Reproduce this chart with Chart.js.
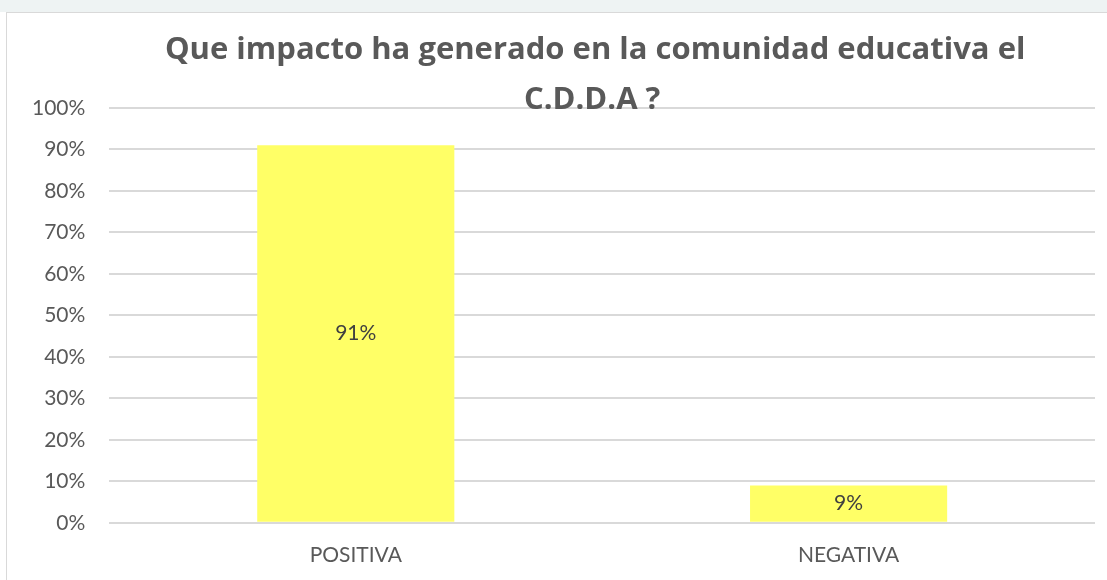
<!DOCTYPE html>
<html>
<head>
<meta charset="utf-8">
<script src="https://cdn.jsdelivr.net/npm/chart.js@4"></script>
<style>
  body { margin: 0; background: #ffffff; }
  #strip { position: absolute; left: 0; top: 0; width: 1107px; height: 12px; background: #eef3f3; }
  #box { position: absolute; left: 6px; top: 12px; width: 1100px; height: 567px; border: 1px solid #d9d9d9; border-right: none; border-bottom: none; background: #fff; }
</style>
</head>
<body>
<div id="strip"></div>
<div id="box"><canvas id="impactChart"></canvas></div>
<script>
let categories = ["POSITIVA", "NEGATIVA"];
let values = [0.91, 0.09];
let titleLines = ["Que impacto ha generado en la comunidad educativa el", "C.D.D.A ?"];

let pct = (v) => Math.round(v * 100) + "%";

// value labels in the middle of each bar
let centerLabels = {
  id: "centerLabels",
  afterDatasetsDraw(chart) {
    let ctx = chart.ctx;
    let meta = chart.getDatasetMeta(0);
    ctx.save();
    ctx.font = "21px Lato";
    ctx.fillStyle = "#404040";
    ctx.textAlign = "center";
    ctx.textBaseline = "middle";
    meta.data.forEach((bar, i) => {
      let mid = (bar.y + bar.base) / 2;
      ctx.fillText(pct(values[i]), bar.x, mid);
    });
    ctx.restore();
  },
};

// two-line title drawn by hand so it can sit close to the plot
let titleText = {
  id: "titleText",
  afterDraw(chart) {
    let ctx = chart.ctx;
    let area = chart.chartArea;
    let cx = (area.left + area.right) / 2 - 7;
    ctx.save();
    ctx.font = "bold 31px 'Open Sans'";
    ctx.fillStyle = "#595959";
    ctx.textAlign = "center";
    ctx.textBaseline = "alphabetic";
    titleLines.forEach((line, i) => {
      ctx.fillText(line, cx - i * 3, 46 + i * 50);
    });
    ctx.restore();
  },
};

new Chart(document.querySelector("#impactChart"), {
  type: "bar",
  data: {
    labels: categories,
    datasets: [
      {
        data: values,
        backgroundColor: "#FFFF66",
        borderWidth: 0,
        categoryPercentage: 1,
        barPercentage: 0.4,
      },
    ],
  },
  options: {
    responsive: true,
    maintainAspectRatio: false,
    animation: false,
    layout: {
      padding: { left: 1, right: 12, top: 95, bottom: -8 },
    },
    scales: {
      x: {
        grid: { display: false, drawTicks: false },
        border: { display: false },
        ticks: {
          color: "#595959",
          padding: 20,
          font: { size: 21, family: "Lato" },
        },
      },
      y: {
        min: 0,
        max: 1,
        grid: { color: "#d9d9d9", lineWidth: 2, drawTicks: false },
        border: { display: false },
        ticks: {
          stepSize: 0.1,
          color: "#595959",
          padding: 24,
          font: { size: 21, family: "Lato" },
          callback: (value) => pct(value),
        },
      },
    },
    plugins: {
      legend: { display: false },
      tooltip: { enabled: false },
      title: { display: false },
    },
  },
  plugins: [centerLabels, titleText],
});
</script>
</body>
</html>
